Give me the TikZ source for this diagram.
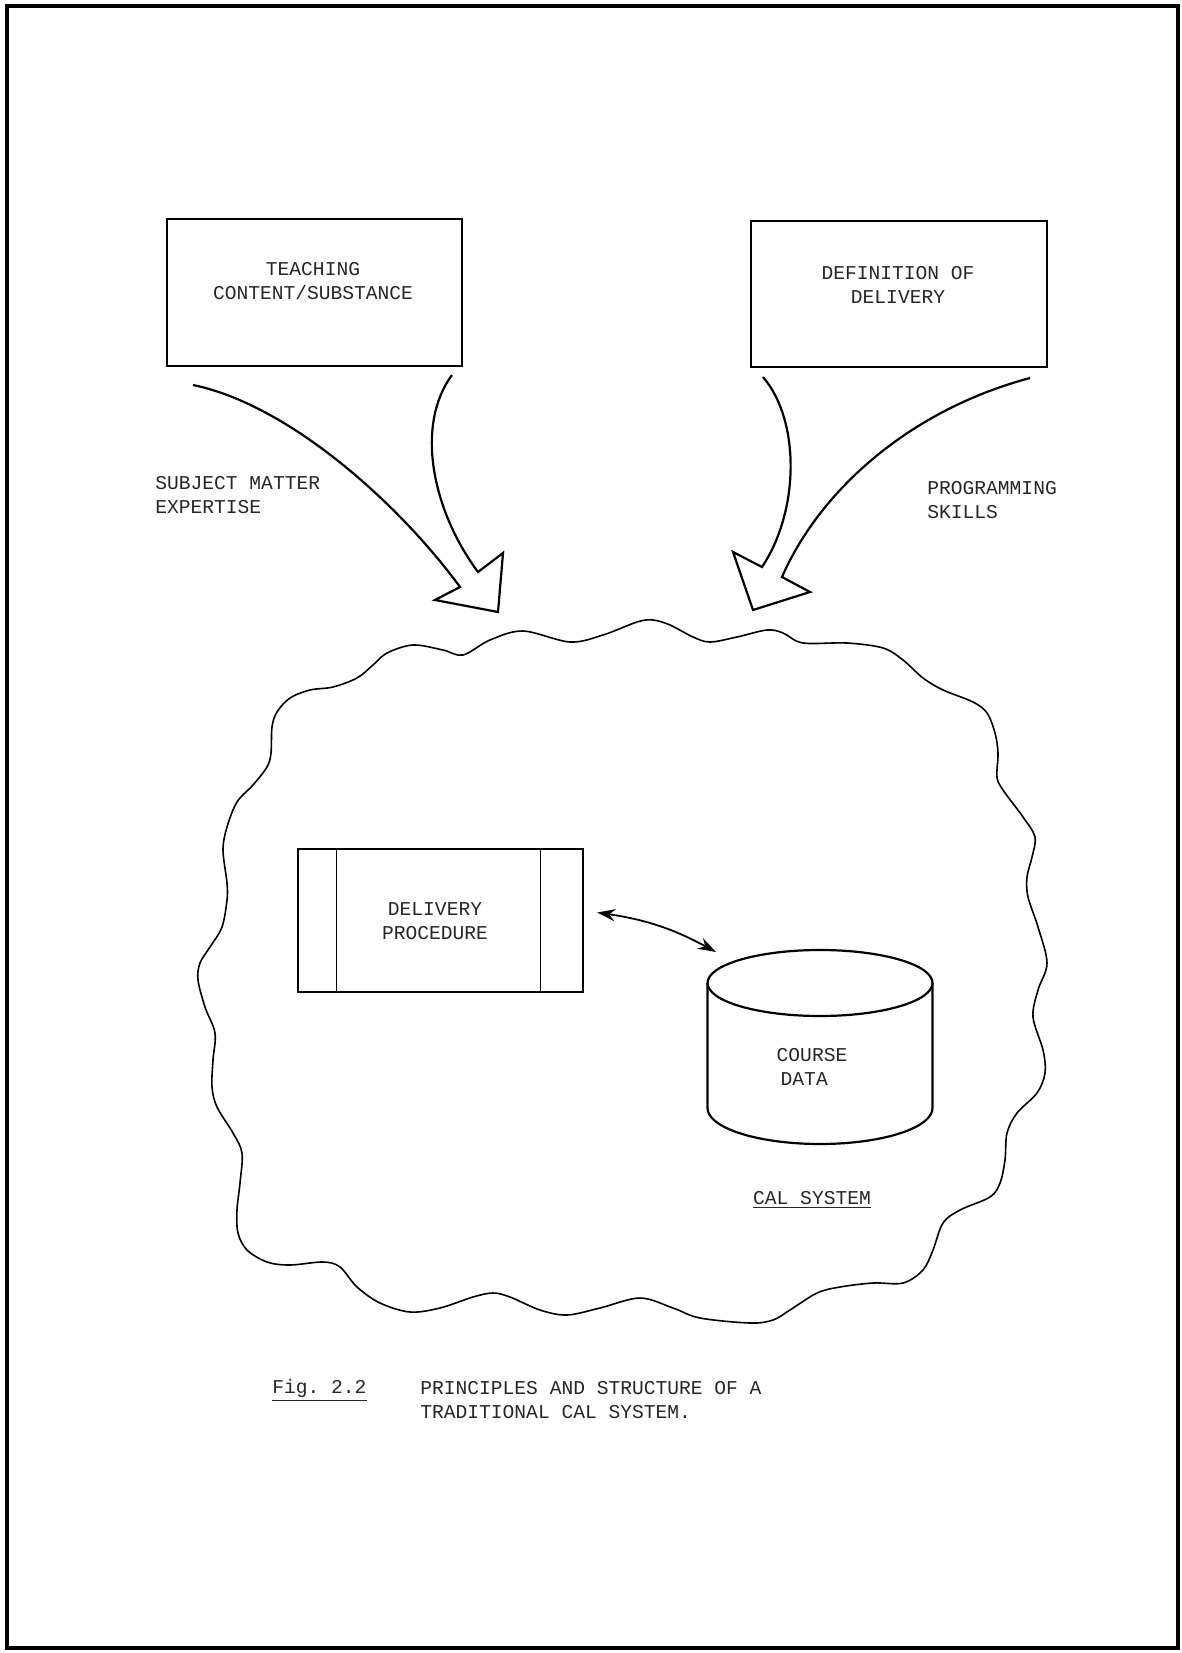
\documentclass[tikz,border=0pt]{standalone}
\usepackage{fontspec}
\setmonofont{Liberation Mono}
\usetikzlibrary{arrows.meta,calc}
\begin{document}
\begin{tikzpicture}[x=0.5pt,y=-0.5pt,
  txt/.style={font=\ttfamily\fontsize{9.8pt}{12pt}\selectfont, inner sep=0pt, text=black!85},
  box/.style={draw, line width=1.2pt, inner sep=0pt},
  blockarrow/.style={draw, line width=1.1pt, line join=miter},
  cloudline/.style={draw, line width=0.8pt},
  linkarrow/.style={line width=0.9pt, {Stealth[length=9pt,width=6pt]}-{Stealth[length=9pt,width=6pt]}}]

\useasboundingbox (0,0) rectangle (1182,1653);
% page frame
\draw[line width=2pt] (7,6) rectangle (1178,1648);

% source boxes
\node[box, minimum width=147.5pt, minimum height=73.5pt] (teach) at (314.5,292.5) {};
\node[txt, align=center] (teachT) at (313,281) {TEACHING\\CONTENT/SUBSTANCE};
\node[box, minimum width=148pt, minimum height=73pt] (defn) at (899,294) {};
\node[txt, align=center] (defnT) at (898,285) {DEFINITION OF\\DELIVERY};

% arrow labels
\node[txt, align=left, anchor=west] (sme) at (155,495) {SUBJECT MATTER\\EXPERTISE};
\node[txt, align=left, anchor=west] (prog) at (927,500) {PROGRAMMING\\SKILLS};

% left block arrow
\coordinate (lo) at (193,385);
\coordinate (li) at (452,375);
\draw[blockarrow] (lo) .. controls (290,405) and (400,505) .. (460,587)
  -- (435,600) -- (498,612) -- (503,553) -- (478,572)
  .. controls (432,510) and (415,425) .. (li);

% right block arrow
\coordinate (ri) at (763,377);
\coordinate (ro) at (1030,378);
\draw[blockarrow] (ri) .. controls (800,420) and (800,510) .. (762,567)
  -- (733,552) -- (753,610) -- (810,592) -- (782,577)
  .. controls (820,490) and (910,410) .. (ro);

% CAL system outline
\draw[cloudline] plot[smooth cycle, tension=0.55] coordinates {
  (227,900) (227,883) (223,850) (227,827) (237,802) (253,785) (267,767)
  (271,753) (272,727) (277,712) (290,698) (310,690) (333,687) (357,678)
  (373,665) (387,653) (413,645) (443,650) (463,655) (490,640) (523,631)
  (570,642) (603,635) (637,622) (653,620) (670,625) (693,637) (710,642)
  (737,637) (767,630) (783,633) (803,643) (847,643) (883,648) (903,660)
  (923,678) (943,690) (973,702) (987,713) (995,733) (998,753) (997,777)
  (1003,790) (1023,817) (1035,837) (1032,857) (1027,877) (1028,897)
  (1038,927) (1047,963) (1038,990) (1033,1017) (1043,1050) (1045,1073)
  (1037,1093) (1017,1113) (1007,1133) (1005,1160) (1000,1183) (990,1197)
  (960,1210) (943,1223) (933,1250) (923,1270) (903,1283) (873,1283)
  (840,1287) (817,1293) (790,1310) (773,1320) (750,1323) (700,1318)
  (673,1308) (640,1298) (600,1308) (567,1315) (540,1310) (510,1297)
  (493,1293) (473,1297) (440,1308) (410,1312) (380,1303) (357,1287)
  (340,1267) (323,1262) (290,1265) (267,1262) (247,1250) (238,1233)
  (237,1210) (240,1183) (242,1153) (233,1133) (217,1107) (212,1087)
  (213,1060) (215,1033) (205,1007) (198,980) (200,963) (210,947) (222,927)};

% delivery procedure box
\node[box, minimum width=142.5pt, minimum height=71.5pt] (dp) at (440.5,920.5) {};
\draw[line width=0.6pt] ([xshift=20pt]dp.north west) -- ([xshift=20pt]dp.south west);
\draw[line width=0.6pt] ([xshift=-22pt]dp.north east) -- ([xshift=-22pt]dp.south east);
\node[txt, align=center] (dpT) at (435,921.5) {DELIVERY\\PROCEDURE};

% course data store
\coordinate (cyl) at (820,983);
\draw[line width=1.1pt] (cyl) ellipse [x radius=112.5, y radius=33];
\draw[line width=1.1pt] (707.5,983) -- (707.5,1108)
  .. controls (707.5,1127.9) and (757.9,1144) .. (820,1144)
  .. controls (882.1,1144) and (932.5,1127.9) .. (932.5,1108) -- (932.5,983);
\node[txt, align=left] (cd) at (812,1067) {COURSE\\\hspace{2pt}DATA};

% link between procedure and data
\coordinate (la) at ($(dp.east)+(13,-8)$);
\coordinate (lb) at ($(cyl)+(-104,-31)$);
\draw[linkarrow] (la) to[bend left=10] (lb);

\node[txt] (cal) at (812,1200) {\underline{CAL SYSTEM}};

% caption
\node[txt, anchor=west] (fig) at (272,1390) {\underline{Fig. 2.2}};
\node[txt, align=left, anchor=north west] (cap) at (420,1381) {PRINCIPLES AND STRUCTURE OF A\\TRADITIONAL CAL SYSTEM.};
\end{tikzpicture}
\end{document}
